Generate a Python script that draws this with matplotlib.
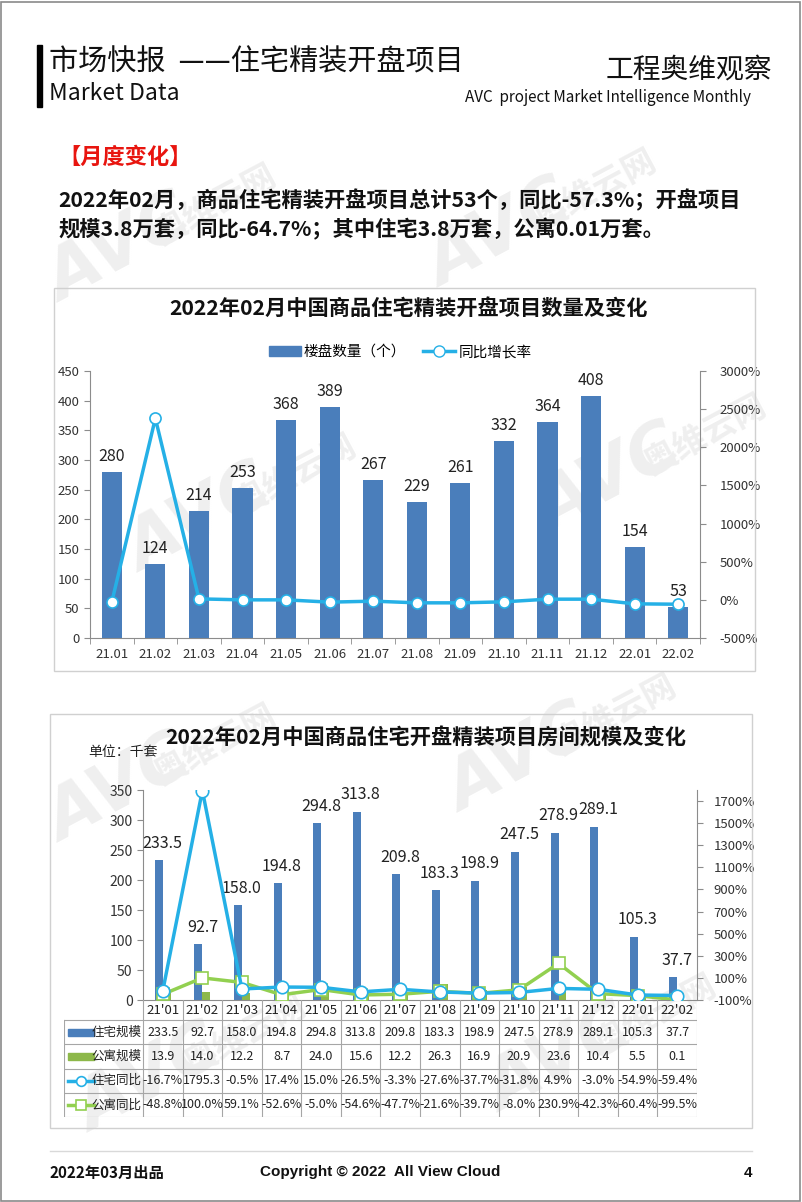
import matplotlib
matplotlib.use("Agg")
import matplotlib.pyplot as plt
from matplotlib.patches import Rectangle
from matplotlib.lines import Line2D
import numpy as np

plt.rcParams['font.family'] = ['Noto Sans CJK SC', 'DejaVu Sans']

# ---------------- data ----------------
months1 = ['21.01', '21.02', '21.03', '21.04', '21.05', '21.06', '21.07',
           '21.08', '21.09', '21.10', '21.11', '21.12', '22.01', '22.02']
project_count = [280, 124, 214, 253, 368, 389, 267, 229, 261, 332, 364, 408, 154, 53]
count_yoy = [-30, 2380, 13, 0, 0, -30, -17, -39, -39, -26, 9, 9, -52, -57.3]

months2 = ["21'01", "21'02", "21'03", "21'04", "21'05", "21'06", "21'07",
           "21'08", "21'09", "21'10", "21'11", "21'12", "22'01", "22'02"]
res_scale = [233.5, 92.7, 158.0, 194.8, 294.8, 313.8, 209.8, 183.3, 198.9, 247.5, 278.9, 289.1, 105.3, 37.7]
apt_scale = [13.9, 14.0, 12.2, 8.7, 24.0, 15.6, 12.2, 26.3, 16.9, 20.9, 23.6, 10.4, 5.5, 0.1]
res_yoy = [-16.7, 1795.3, -0.5, 17.4, 15.0, -26.5, -3.3, -27.6, -37.7, -31.8, 4.9, -3.0, -54.9, -59.4]
apt_yoy = [-48.8, 100.0, 59.1, -52.6, -5.0, -54.6, -47.7, -21.6, -39.7, -8.0, 230.9, -42.3, -60.4, -99.5]

row_names = ['住宅规模', '公寓规模', '住宅同比', '公寓同比']

# ---------------- style ----------------
BLUE = '#4A7EBB'
GREEN = '#8DB84A'
CYAN = '#25B0E6'
LIME = '#92D050'
AXC = '#8C8C8C'

W, H = 802, 1202
fig = plt.figure(figsize=(W / 100, H / 100), dpi=100)


def fx(x):
    return x / W


def fy(y):
    return 1 - y / H


def add_axes_px(x0, y0, x1, y1, **kw):
    return fig.add_axes([fx(x0), fy(y1), (x1 - x0) / W, (y1 - y0) / H], **kw)


# page frame
fig.patches.append(Rectangle((0.001, 0.001), 0.997, 0.997, transform=fig.transFigure,
                             fill=False, edgecolor='#8A8A8A', lw=1.2))

# watermarks (faint, behind everything)
for (x, y) in [(120, 250), (500, 235), (200, 520), (610, 480),
               (120, 790), (520, 760), (150, 1080), (560, 1060)]:
    fig.text(fx(x), fy(y), 'AVC', fontsize=50, color='#EFEFEF', fontweight='bold',
             rotation=28, ha='center', va='center', zorder=-5, family=['DejaVu Sans'],
             style='italic')
    fig.text(fx(x + 95), fy(y - 45), '奥维云网', fontsize=24, color='#EFEFEF',
             fontweight='bold', rotation=28, ha='center', va='center', zorder=-5)

# ---------------- header ----------------
fig.patches.append(Rectangle((fx(37), fy(107)), 5 / W, 62 / H, transform=fig.transFigure,
                             color='black'))
fig.text(fx(49), fy(62), '市场快报  ——住宅精装开盘项目', fontsize=21, va='center', ha='left',
         color='#111111', fontweight='light')
fig.text(fx(49), fy(94), 'Market Data', fontsize=16.5, va='center', ha='left', color='#111111',
         fontweight='light')
fig.text(fx(772), fy(69), '工程奥维观察', fontsize=20, va='center', ha='right', color='#111111',
         fontweight='light')
fig.text(fx(751), fy(97), 'AVC  project Market Intelligence Monthly', fontsize=11,
         va='center', ha='right', color='#111111', fontweight='light')

fig.text(fx(58), fy(157), '【月度变化】', fontsize=16, fontweight='bold', color='#E8150F',
         va='center', ha='left')
fig.text(fx(58), fy(200), '2022年02月，商品住宅精装开盘项目总计53个，同比-57.3%；开盘项目',
         fontsize=15.3, fontweight='bold', va='center', ha='left', color='#111111')
fig.text(fx(58), fy(229), '规模3.8万套，同比-64.7%；其中住宅3.8万套，公寓0.01万套。',
         fontsize=15.3, fontweight='bold', va='center', ha='left', color='#111111')

# ---------------- chart 1 ----------------
fig.patches.append(Rectangle((fx(54), fy(671)), (755 - 54) / W, (671 - 288) / H,
                             transform=fig.transFigure, fill=False, edgecolor='#D0D0D0', lw=1))
fig.text(fx(409), fy(308), '2022年02月中国商品住宅精装开盘项目数量及变化', fontsize=15.3,
         fontweight='bold', ha='center', va='center', color='#111111')

ax1 = add_axes_px(90, 371, 700, 638)
ax1.patch.set_alpha(0)
x = np.arange(len(months1))
ax1.bar(x, project_count, width=0.46, color=BLUE, zorder=2)
for xi, v in zip(x, project_count):
    ax1.annotate(f'{v}', (xi, v), xytext=(0, 5), textcoords='offset points', ha='center',
                 va='bottom', fontsize=11.5, color='#222222')
ax1.set_xlim(-0.5, len(months1) - 0.5)
ax1.set_ylim(0, 450)
ax1.set_yticks(np.arange(0, 451, 50))
ax1.set_xticks(x)
ax1.set_xticklabels(months1)
ax1.set_xticks(np.arange(-0.5, len(months1), 1), minor=True)
ax1.tick_params(axis='x', which='major', length=0, labelsize=9.5, colors='#333333', pad=7)
ax1.tick_params(axis='x', which='minor', length=4, color=AXC)
ax1.tick_params(axis='y', length=4, color=AXC, labelsize=9.5, labelcolor='#333333')
for s in ['top', 'right']:
    ax1.spines[s].set_visible(False)
for s in ['left', 'bottom']:
    ax1.spines[s].set_color(AXC)

ax1b = ax1.twinx()
ax1b.plot(x, count_yoy, color=CYAN, lw=2.5, marker='o', ms=8, mfc='white', mec=CYAN,
          mew=1.2, zorder=3)
ax1b.set_ylim(-500, 3000)
ax1b.set_yticks(np.arange(-500, 3001, 500))
ax1b.set_yticklabels([f'{v}%' for v in range(-500, 3001, 500)])
ax1b.tick_params(axis='y', length=4, color=AXC, labelsize=9.5, labelcolor='#333333', pad=10)
for s in ['top', 'left', 'bottom']:
    ax1b.spines[s].set_visible(False)
ax1b.spines['right'].set_color(AXC)

h1 = [Rectangle((0, 0), 1, 1, color=BLUE),
      Line2D([], [], color=CYAN, lw=2.5, marker='o', ms=8, mfc='white', mec=CYAN)]
fig.legend(h1, ['楼盘数量（个）', '同比增长率'], loc='center', bbox_to_anchor=(fx(400), fy(352)),
           ncol=2, frameon=False, fontsize=10.5, handlelength=2.2, columnspacing=1.2,
           handletextpad=0.2)

# ---------------- chart 2 ----------------
fig.patches.append(Rectangle((fx(50), fy(1128)), (752 - 50) / W, (1128 - 714) / H,
                             transform=fig.transFigure, fill=False, edgecolor='#D0D0D0', lw=1))
fig.text(fx(426), fy(738), '2022年02月中国商品住宅开盘精装项目房间规模及变化', fontsize=15.3,
         fontweight='bold', ha='center', va='center', color='#111111')
fig.text(fx(88), fy(752), '单位：千套', fontsize=10, ha='left', va='center', color='#222222')

L2, R2, T2, B2 = 143, 697, 790, 1000
ax2 = add_axes_px(L2, T2, R2, B2)
ax2.patch.set_alpha(0)
x2 = np.arange(len(months2))
ax2.bar(x2 - 0.1, res_scale, width=0.2, color=BLUE, zorder=2)
ax2.bar(x2 + 0.1, apt_scale, width=0.2, color=GREEN, zorder=2)
for xi, v in zip(x2, res_scale):
    ax2.annotate(f'{v:.1f}', (xi, v), xytext=(0, 6), textcoords='offset points', ha='center',
                 va='bottom', fontsize=11.5, color='#222222')
ax2.set_xlim(-0.5, len(months2) - 0.5)
ax2.set_ylim(0, 350)
ax2.set_yticks(np.arange(0, 351, 50))
ax2.set_xticks([])
ax2.tick_params(axis='y', length=4, color=AXC, labelsize=10, labelcolor='#333333')
for s in ['top', 'right']:
    ax2.spines[s].set_visible(False)
for s in ['left', 'bottom']:
    ax2.spines[s].set_color(AXC)

ax2b = ax2.twinx()
ax2b.plot(x2, res_yoy, color=CYAN, lw=2.5, marker='o', ms=9, mfc='white', mec=CYAN,
          mew=1.2, zorder=4)
ax2b.plot(x2, apt_yoy, color=LIME, lw=2.5, marker='s', ms=9, mfc='white', mec=LIME,
          mew=1.2, zorder=3)
ax2b.set_ylim(-100, 1800)
ax2b.set_yticks(np.arange(-100, 1701, 200))
ax2b.set_yticklabels([f'{v}%' for v in range(-100, 1701, 200)])
ax2b.tick_params(axis='y', length=4, color=AXC, labelsize=9.5, labelcolor='#333333', pad=8)
for s in ['top', 'left', 'bottom']:
    ax2b.spines[s].set_visible(False)
ax2b.spines['right'].set_color(AXC)

# ---- data table ----
TL, TT, TB = 64, 1000, 1117
axt = add_axes_px(TL, TT, R2, TB)
cw = (R2 - L2) / len(months2)
axt.set_xlim(-0.5 - (L2 - TL) / cw, len(months2) - 0.5)
axt.set_ylim(TB - TT, 0)
axt.axis('off')
xl = axt.get_xlim()[0]
row_h = (TB - TT - 20) / 4
row_tops = [20 + i * row_h for i in range(4)]
gc = '#A6A6A6'
for i, m in enumerate(months2):
    axt.text(i, 10, m, ha='center', va='center', fontsize=9.5, color='#222222')
for i in range(len(months2) + 1):
    axt.plot([i - 0.5, i - 0.5], [0, TB - TT], color=gc, lw=0.8)
axt.plot([xl, xl], [20, TB - TT], color=gc, lw=0.8)
for yv in row_tops + [TB - TT]:
    axt.plot([xl, len(months2) - 0.5], [yv, yv], color=gc, lw=0.8)

rows = [[f'{v:.1f}' for v in res_scale],
        [f'{v:.1f}' for v in apt_scale],
        [(f'{v:.1f}%' if abs(v) < 1000 else f'{v:.1f}') for v in res_yoy],
        [f'{v:.1f}%' for v in apt_yoy]]
for r, vals in enumerate(rows):
    yc = row_tops[r] + row_h / 2
    for i, s in enumerate(vals):
        axt.text(i, yc, s, ha='center', va='center', fontsize=9, color='#222222')
    axt.text(-0.5 - 1.5 / cw, yc, row_names[r], ha='right', va='center', fontsize=9,
             color='#222222')

# legend keys in the table
k0, k1 = xl + 4 / cw, xl + 30 / cw
axt.add_patch(Rectangle((k0, row_tops[0] + row_h / 2 - 3.5), k1 - k0, 7, color=BLUE))
axt.add_patch(Rectangle((k0, row_tops[1] + row_h / 2 - 3.5), k1 - k0, 7, color=GREEN))
yc = row_tops[2] + row_h / 2
axt.plot([k0, k1], [yc, yc], color=CYAN, lw=2.5)
axt.plot([(k0 + k1) / 2], [yc], marker='o', ms=7, mfc='white', mec=CYAN, mew=1.2)
yc = row_tops[3] + row_h / 2
axt.plot([k0, k1], [yc, yc], color=LIME, lw=2.5)
axt.plot([(k0 + k1) / 2], [yc], marker='s', ms=7, mfc='white', mec=LIME, mew=1.2)

# ---------------- footer ----------------
fig.add_artist(Line2D([fx(50), fx(752)], [fy(1151), fy(1151)], color='#D9D9D9', lw=1))
fig.text(fx(50), fy(1173), '2022年03月出品', fontsize=11, fontweight='bold', ha='left',
         va='center', color='#111111')
fig.text(fx(380), fy(1172), 'Copyright © 2022  All View Cloud', fontsize=11, fontweight='bold',
         ha='center', va='center', color='#111111', family=['Liberation Sans', 'DejaVu Sans'])
fig.text(fx(752), fy(1173), '4', fontsize=11, fontweight='bold', ha='right', va='center',
         color='#111111', family=['Liberation Sans', 'DejaVu Sans'])

fig.savefig('out.png', dpi=100)
